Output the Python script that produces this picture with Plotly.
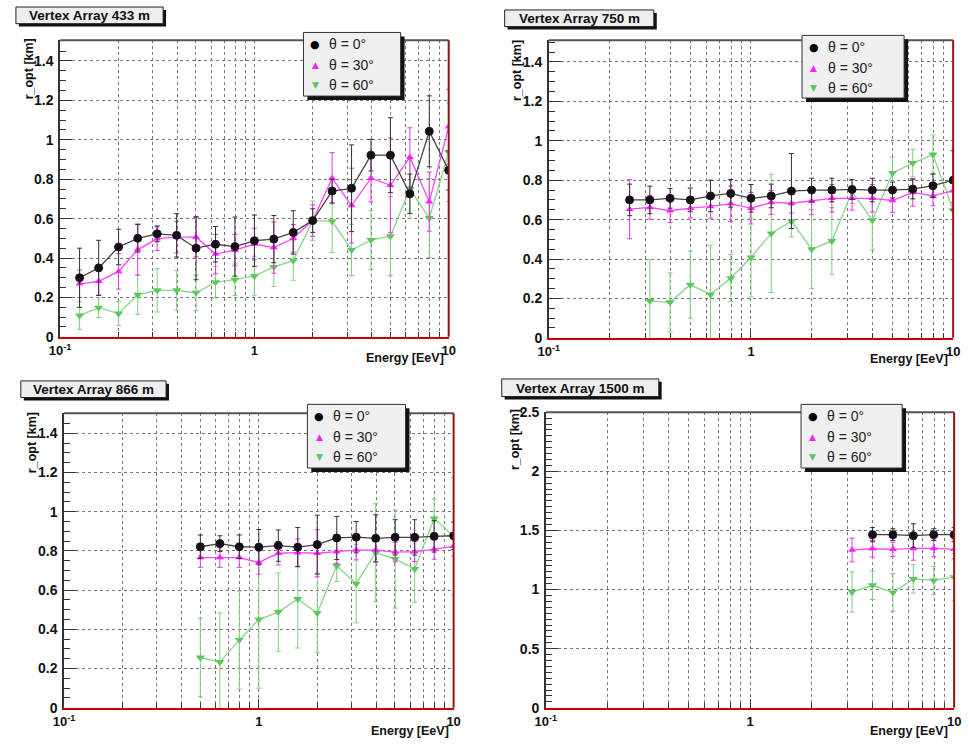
import plotly.graph_objects as go

W, H = 969, 752

# ---------------- data: optimal distance r_opt [km] vs energy [EeV] ----------------
# Vertex Array 433 m
E_433 = [0.126, 0.158, 0.2, 0.251, 0.316, 0.398, 0.501, 0.631, 0.794, 1.0,
         1.259, 1.585, 1.995, 2.512, 3.162, 3.981, 5.012, 6.310, 7.943, 10.0]
r0_433 = [0.30, 0.35, 0.456, 0.50, 0.523, 0.515, 0.45, 0.47, 0.458, 0.488,
          0.496, 0.53, 0.59, 0.74, 0.754, 0.922, 0.922, 0.726, 1.043, 0.845]
e0_433 = [0.15, 0.14, 0.09, 0.07, 0.04, 0.11, 0.16, 0.09, 0.15, 0.13,
          0.12, 0.11, 0.06, 0.06, 0.22, 0.08, 0.19, 0.10, 0.18, 0.10]
r30_433 = [0.269, 0.282, 0.332, 0.443, 0.498, 0.506, 0.506, 0.42, 0.44, 0.471,
           0.453, 0.50, 0.59, 0.805, 0.666, 0.805, 0.769, 0.911, 0.686, 1.066]
e30_433 = [0.07, 0.07, 0.09, 0.13, 0.06, 0.08, 0.10, 0.10, 0.08, 0.08,
           0.13, 0.07, 0.08, 0.13, 0.19, 0.12, 0.24, 0.15, 0.15, 0.19]
r60_433 = [0.108, 0.148, 0.118, 0.214, 0.236, 0.236, 0.224, 0.277, 0.29, 0.309,
           0.355, 0.387, 0.59, 0.587, 0.441, 0.491, 0.511, 0.75, 0.603, 0.937]
e60_433 = [0.07, 0.05, 0.06, 0.10, 0.11, 0.10, 0.09, 0.08, 0.08, 0.10,
           0.10, 0.10, 0.10, 0.16, 0.13, 0.15, 0.20, 0.15, 0.20, 0.25]

# Vertex Array 750 m
E0_750 = [0.251, 0.316, 0.398, 0.501, 0.631, 0.794, 1.0, 1.259, 1.585,
          1.995, 2.512, 3.162, 3.981, 5.012, 6.310, 7.943, 10.0]
r0_750 = [0.70, 0.70, 0.708, 0.70, 0.72, 0.733, 0.708, 0.72, 0.745,
          0.75, 0.75, 0.753, 0.75, 0.75, 0.755, 0.772, 0.80]
e0_750 = [0.08, 0.07, 0.05, 0.06, 0.08, 0.07, 0.07, 0.06, 0.19,
          0.06, 0.06, 0.05, 0.06, 0.04, 0.05, 0.06, 0.15]
r30_750 = [0.653, 0.662, 0.645, 0.658, 0.667, 0.68, 0.658, 0.687, 0.683,
           0.695, 0.708, 0.708, 0.708, 0.697, 0.738, 0.72, 0.747]
e30_750 = [0.15, 0.06, 0.06, 0.05, 0.06, 0.09, 0.08, 0.06, 0.05,
           0.07, 0.07, 0.06, 0.07, 0.06, 0.07, 0.05, 0.06]
E60_750 = [0.316, 0.398, 0.501, 0.631, 0.794, 1.0, 1.259, 1.585,
           1.995, 2.512, 3.162, 3.981, 5.012, 6.310, 7.943, 10.0]
r60_750 = [0.187, 0.18, 0.27, 0.22, 0.303, 0.408, 0.53, 0.592,
           0.45, 0.492, 0.742, 0.597, 0.837, 0.887, 0.93, 0.647]
e60_750 = [0.21, 0.15, 0.17, 0.25, 0.12, 0.20, 0.30, 0.08,
           0.20, 0.17, 0.06, 0.15, 0.08, 0.07, 0.10, 0.12]

# Vertex Array 866 m
E_866 = [0.501, 0.631, 0.794, 1.0, 1.259, 1.585, 1.995,
         2.512, 3.162, 3.981, 5.012, 6.310, 7.943, 10.0]
r0_866 = [0.821, 0.837, 0.821, 0.819, 0.827, 0.819, 0.832,
          0.866, 0.87, 0.864, 0.869, 0.869, 0.874, 0.877]
e0_866 = [0.06, 0.04, 0.06, 0.09, 0.08, 0.10, 0.15,
          0.11, 0.08, 0.12, 0.09, 0.09, 0.08, 0.07]
r30_866 = [0.766, 0.766, 0.766, 0.741, 0.788, 0.791, 0.788,
           0.796, 0.804, 0.804, 0.794, 0.796, 0.808, 0.824]
e30_866 = [0.05, 0.05, 0.05, 0.06, 0.06, 0.07, 0.12,
           0.06, 0.05, 0.06, 0.05, 0.05, 0.05, 0.05]
r60_866 = [0.256, 0.234, 0.345, 0.45, 0.488, 0.555, 0.483,
           0.724, 0.633, 0.791, 0.758, 0.708, 0.965, 0.874]
e60_866 = [0.20, 0.25, 0.25, 0.35, 0.20, 0.25, 0.20,
           0.08, 0.20, 0.25, 0.25, 0.17, 0.10, 0.30]

# Vertex Array 1500 m
E0_1500 = [3.981, 5.012, 6.310, 7.943, 10.0]
r0_1500 = [1.464, 1.464, 1.456, 1.464, 1.464]
e0_1500 = [0.06, 0.05, 0.10, 0.05, 0.06]
E_1500 = [3.162, 3.981, 5.012, 6.310, 7.943, 10.0]
r30_1500 = [1.335, 1.345, 1.34, 1.348, 1.348, 1.34]
e30_1500 = [0.10, 0.07, 0.06, 0.10, 0.07, 0.08]
r60_1500 = [0.98, 1.036, 0.975, 1.09, 1.077, 1.105]
e60_1500 = [0.17, 0.12, 0.16, 0.12, 0.12, 0.20]

titles = ["Vertex Array 433 m", "Vertex Array 750 m",
          "Vertex Array 866 m", "Vertex Array 1500 m"]
labels = ["θ = 0°", "θ = 30°", "θ = 60°"]
x_major = [0.1, 1, 10]
x_major_text = ["10<sup>-1</sup>", "1", "10"]
x_minor = [0.2, 0.3, 0.4, 0.5, 0.6, 0.7, 0.8, 0.9, 2, 3, 4, 5, 6, 7, 8, 9]

panels = [
    dict(series=[(E_433, r0_433, e0_433), (E_433, r30_433, e30_433), (E_433, r60_433, e60_433)],
         frame=(50, 33, 446, 336), ymax=1.505, dtick=0.2,
         tbox=(5, -1, 155, 16), lbox=(298, 25, 397, 90), ytitle=(18, 62), xtitle=(443, 358)),
    dict(series=[(E0_750, r0_750, e0_750), (E0_750, r30_750, e30_750), (E60_750, r60_750, e60_750)],
         frame=(548, 33, 960, 337), ymax=1.51, dtick=0.2,
         tbox=(503, 2, 655, 19), lbox=(806, 28, 910, 92), ytitle=(515, 64), xtitle=(957, 359)),
    dict(series=[(E_866, r0_866, e0_866), (E_866, r30_866, e30_866), (E_866, r60_866, e60_866)],
         frame=(54, 414, 451, 715), ymax=1.502, dtick=0.2,
         tbox=(10, 381, 158, 398), lbox=(302, 405, 402, 470), ytitle=(21, 444), xtitle=(448, 739)),
    dict(series=[(E0_1500, r0_1500, e0_1500), (E_1500, r30_1500, e30_1500), (E_1500, r60_1500, e60_1500)],
         frame=(545, 413, 961, 715), ymax=2.5, dtick=0.5,
         tbox=(500, 379, 660, 397), lbox=(805, 405, 908, 470), ytitle=(513, 441), xtitle=(957, 739)),
]

styles = [
    dict(marker=dict(symbol="circle", size=8, color="#111111", line=dict(color="#2a0a2a", width=1)),
         line=dict(color="#444444", width=1.3), err="#333333", glyph="●", gsize=11, gcolor="#000000"),
    dict(marker=dict(symbol="triangle-up", size=7, color="#ff22ff", line=dict(width=0)),
         line=dict(color="#ff44ff", width=1.3), err="#ee33ee", glyph="▲", gsize=9, gcolor="#ff22ff"),
    dict(marker=dict(symbol="triangle-down", size=8, color="#5cc85c", line=dict(width=0)),
         line=dict(color="#88d488", width=1.3), err="#7fd07f", glyph="▼", gsize=9, gcolor="#5cc85c"),
]
draw_order = [2, 1, 0]

FONT = "Liberation Sans, Arial, Helvetica, sans-serif"


def px(x):
    return x / W


def py(y):
    return 1 - y / H


def box(x0, y0, x1, y1, fill, line=None, dx=0):
    return dict(type="rect", xref="paper", yref="paper",
                x0=px(x0 + dx), x1=px(x1 + dx), y0=py(y0 + dx), y1=py(y1 + dx),
                fillcolor=fill, line=line or dict(width=0), layer="above")


fig = go.Figure()
layout = dict(width=W, height=H, margin=dict(l=0, r=0, t=0, b=0),
              paper_bgcolor="white", plot_bgcolor="white", showlegend=False)
shapes, annotations = [], []

for i, p in enumerate(panels, start=1):
    sfx = "" if i == 1 else str(i)
    xa, ya = "x" + sfx, "y" + sfx
    x0, y0, x1, y1 = p["frame"]

    for k in draw_order:
        ex, ey, ee = p["series"][k]
        st = styles[k]
        fig.add_trace(go.Scatter(
            x=ex, y=ey, mode="lines+markers", xaxis=xa, yaxis=ya,
            marker=st["marker"], line=st["line"], name=labels[k],
            error_y=dict(type="data", array=ee, visible=True, color=st["err"],
                         thickness=1, width=2.5),
        ))

    layout["xaxis" + sfx] = dict(
        domain=[px(x0), px(x1)], anchor=ya, type="log",
        range=[-1, 1], tickvals=x_major, ticktext=x_major_text,
        ticks="inside", ticklen=9, tickcolor="#333333",
        minor=dict(tickvals=x_minor, ticks="inside", ticklen=5, tickcolor="#333333",
                   showgrid=True, gridcolor="#777777", griddash="dot", gridwidth=1),
        tickfont=dict(family=FONT, size=13, color="#111111", weight="bold"),
        showgrid=True, gridcolor="#777777", griddash="dot", gridwidth=1,
        showline=True, linecolor="#cc0000", linewidth=2, mirror=False,
        zeroline=False, ticklabelstandoff=1,
    )
    layout["yaxis" + sfx] = dict(
        domain=[py(y1), py(y0)], anchor=xa, range=[0, p["ymax"]],
        dtick=p["dtick"], tick0=0,
        ticks="inside", ticklen=12, tickcolor="#333333",
        minor=dict(dtick=0.05, ticks="inside", ticklen=6, tickcolor="#333333", showgrid=False),
        tickfont=dict(family=FONT, size=14, color="#111111", weight="bold"),
        showgrid=True, gridcolor="#777777", griddash="dot", gridwidth=1,
        showline=True, linecolor="#333333", linewidth=1.5, mirror=False,
        zeroline=False, ticklabelstandoff=2,
    )

    # top and right frame lines
    shapes.append(dict(type="line", xref="paper", yref="paper",
                       x0=px(x0), x1=px(x1), y0=py(y0), y1=py(y0),
                       line=dict(color="#555555", width=2), layer="above"))
    shapes.append(dict(type="line", xref="paper", yref="paper",
                       x0=px(x1), x1=px(x1), y0=py(y0), y1=py(y1),
                       line=dict(color="#9a1010", width=2), layer="above"))

    # title box with shadow
    bx0, by0, bx1, by1 = p["tbox"]
    shapes.append(box(bx0, by0, bx1, by1, "#111111", dx=3))
    shapes.append(box(bx0, by0, bx1, by1, "#eeeeee", line=dict(color="#222222", width=1)))
    annotations.append(dict(text=titles[i - 1], xref="paper", yref="paper",
                            x=px((bx0 + bx1) / 2), y=py((by0 + by1) / 2 + 0.5),
                            xanchor="center", yanchor="middle", showarrow=False,
                            font=dict(family=FONT, size=13.5, color="#111111", weight="bold")))

    # legend box with shadow
    lx0, ly0, lx1, ly1 = p["lbox"]
    shapes.append(box(lx0, ly0, lx1, ly1, "#111111", dx=4))
    shapes.append(box(lx0, ly0, lx1, ly1, "#f0f0f0", line=dict(color="#333333", width=1)))
    for k in range(3):
        st = styles[k]
        row_y = ly0 + 12 + 21 * k
        annotations.append(dict(text=st["glyph"], xref="paper", yref="paper",
                                x=px(lx0 + 12), y=py(row_y), xanchor="center", yanchor="middle",
                                showarrow=False,
                                font=dict(family="DejaVu Sans", size=st["gsize"], color=st["gcolor"])))
        annotations.append(dict(text=labels[k], xref="paper", yref="paper",
                                x=px(lx0 + 24), y=py(row_y), xanchor="left", yanchor="middle",
                                showarrow=False,
                                font=dict(family=FONT, size=14, color="#222222")))

    # axis titles
    tx, ty = p["ytitle"]
    annotations.append(dict(text="r_opt [km]", xref="paper", yref="paper",
                            x=px(tx), y=py(ty), xanchor="center", yanchor="middle",
                            textangle=-90, showarrow=False,
                            font=dict(family=FONT, size=12.5, color="#111111", weight="bold")))
    tx, ty = p["xtitle"]
    annotations.append(dict(text="Energy [EeV]", xref="paper", yref="paper",
                            x=px(tx), y=py(ty), xanchor="right", yanchor="middle",
                            showarrow=False,
                            font=dict(family=FONT, size=12.5, color="#111111", weight="bold")))

layout["shapes"] = shapes
layout["annotations"] = annotations
fig.update_layout(**layout)
fig.write_html("out.html")
